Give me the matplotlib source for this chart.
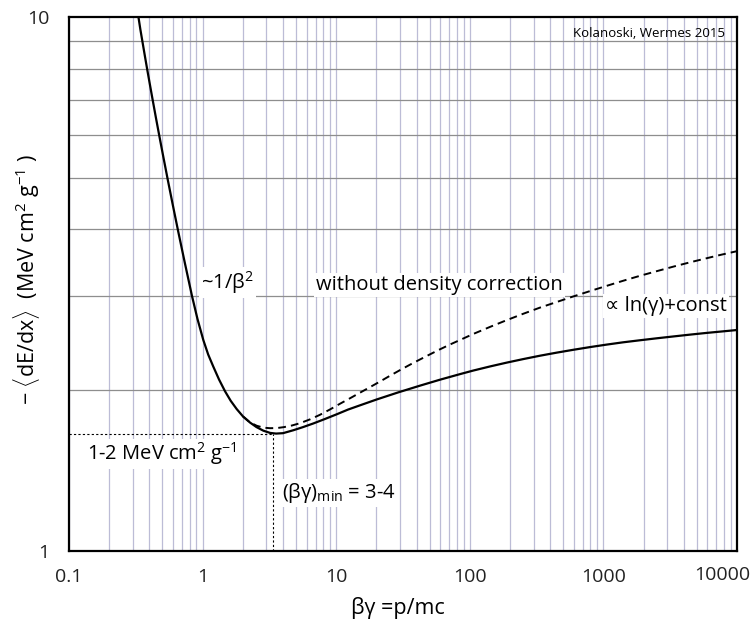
import numpy as np
import matplotlib
matplotlib.use("Agg")
import matplotlib.pyplot as plt
from matplotlib.ticker import FixedLocator, LogLocator, NullFormatter
from matplotlib.transforms import ScaledTranslation

plt.rcParams['font.family'] = ['Open Sans', 'DejaVu Sans']
plt.rcParams['mathtext.fontset'] = 'custom'
plt.rcParams['mathtext.rm'] = 'Open Sans'
plt.rcParams['mathtext.it'] = 'Open Sans:italic'
plt.rcParams['mathtext.bf'] = 'Open Sans:bold'

# energy loss with density correction
bg_solid = [0.331, 0.3417, 0.3546, 0.3698, 0.386, 0.4038, 0.423, 0.4477, 0.4764, 0.5101,
            0.5478, 0.5984, 0.6574, 0.7365, 0.8329, 0.9157, 1.012, 1.101, 1.203, 1.327,
            1.472, 1.623, 1.80, 2.007, 2.263, 2.532, 2.848, 3.196, 3.544, 3.999,
            4.774, 5.643, 6.74, 8.245, 10.09, 12.26, 15.07, 20.1, 29.2, 42.4,
            59.8, 84.5, 106, 141.6, 189, 250, 335, 447, 595, 794,
            1058, 1402, 1879, 2506, 3336, 4448, 5932, 7590, 10000]
dedx_solid = [10.0, 9.496, 8.992, 8.453, 7.946, 7.459, 6.992, 6.469, 5.954, 5.445,
              4.967, 4.446, 3.962, 3.462, 3.003, 2.719, 2.484, 2.333, 2.214, 2.095,
              1.991, 1.911, 1.844, 1.786, 1.740, 1.706, 1.680, 1.664, 1.659, 1.662,
              1.683, 1.706, 1.733, 1.767, 1.803, 1.840, 1.874, 1.922, 1.982, 2.040,
              2.093, 2.144, 2.177, 2.216, 2.253, 2.287, 2.321, 2.352, 2.381, 2.409,
              2.435, 2.459, 2.481, 2.502, 2.522, 2.542, 2.561, 2.576, 2.593]

# energy loss without density correction
bg_dash = [2.007, 2.263, 2.541, 2.848, 3.196, 3.605, 4.068, 4.668, 5.36, 6.368,
           7.56, 8.986, 10.68, 12.69, 15.07, 17.91, 21.3, 25.27, 30.0, 35.67,
           42.4, 50.37, 59.8, 71.1, 84.5, 106, 141.6, 189, 250, 335,
           447, 595, 794, 1058, 1402, 1879, 2506, 3336, 4448, 5932, 7590, 10000]
dedx_dash = [1.786, 1.741, 1.716, 1.702, 1.698, 1.699, 1.706, 1.718, 1.735, 1.764,
             1.799, 1.841, 1.887, 1.932, 1.979, 2.027, 2.077, 2.129, 2.181, 2.233,
             2.284, 2.335, 2.386, 2.436, 2.484, 2.549, 2.628, 2.706, 2.780, 2.856,
             2.926, 2.997, 3.067, 3.137, 3.206, 3.276, 3.342, 3.408, 3.472, 3.534, 3.587, 3.643]

# minimum ionisation
min_bg = 3.35
min_dedx = 1.656

x_ticks = [0.1, 1, 10, 100, 1000, 10000]
x_labels = ['0.1', '1', '10', '100', '1000', '10000']
y_ticks = [1, 10]
y_labels = ['1', '10']
y_grid = [2, 3, 4, 5, 6, 7, 8, 9]

fig = plt.figure(figsize=(7.54, 6.32), dpi=100)
ax = fig.add_axes([0.0915, 0.1282, 0.886, 0.8449])
ax.set_xscale('log')
ax.set_yscale('log')
ax.set_xlim(0.1, 10000)
ax.set_ylim(1, 10)

ax.xaxis.set_major_locator(FixedLocator(x_ticks))
ax.set_xticklabels(x_labels)
ax.xaxis.set_minor_locator(LogLocator(base=10, subs=np.arange(2, 10)))
ax.xaxis.set_minor_formatter(NullFormatter())
ax.yaxis.set_major_locator(FixedLocator(y_ticks))
ax.set_yticklabels(y_labels)
ax.yaxis.set_minor_locator(FixedLocator(y_grid))
ax.yaxis.set_minor_formatter(NullFormatter())
ax.tick_params(which='both', length=0, labelsize=14, colors='#222222')
ax.tick_params(axis='x', pad=12)
ax.tick_params(axis='y', pad=14)

# last x label shifted left so it stays inside the figure
lab = ax.get_xticklabels()[-1]
lab.set_transform(lab.get_transform() + ScaledTranslation(-0.15, 0.02, fig.dpi_scale_trans))

ax.grid(which='both', axis='x', color='#bcbcd6', lw=0.9)
ax.grid(which='minor', axis='y', color='#8e8e8e', lw=0.9)
ax.set_axisbelow(True)
for s in ax.spines.values():
    s.set_linewidth(1.6)

ax.plot(bg_dash, dedx_dash, color='black', lw=1.4, dashes=(4, 2.6))
ax.plot(bg_solid, dedx_solid, color='black', lw=1.6)
ax.hlines(min_dedx, 0.1, min_bg, color='black', lw=0.8, linestyles=(0, (2, 2)))
ax.vlines(min_bg, 1, min_dedx, color='black', lw=0.8, linestyles=(0, (2, 2)))

box = dict(facecolor='white', edgecolor='none', pad=1.5)
fs = 14.5
ax.text(0.973, 3.18, r'~1/β$^2$', fontsize=fs, ha='left', va='center', bbox=box)
ax.text(7.06, 3.15, 'without density correction', fontsize=fs, ha='left', va='center', bbox=box)
ax.text(1028, 2.88, '∝ ln(γ)+const', fontsize=fs, ha='left', va='center', bbox=box)
ax.text(0.1364, 1.519, r'1-2 MeV cm$^2$ g$^{-1}$', fontsize=fs, ha='left', va='center', bbox=box)
ax.text(3.93, 1.284, r'(βγ)$_{\rm min}$ = 3-4', fontsize=fs, ha='left', va='center', bbox=box)
ax.text(8130, 9.33, 'Kolanoski, Wermes 2015', fontsize=9.5, ha='right', va='center')

ax.set_ylabel(r'$-$ $\langle$dE/dx$\rangle$  (MeV cm$^2$ g$^{-1}$ )', fontsize=15.5)
ax.yaxis.set_label_coords(-0.04, 0.5075)
ax.set_xlabel('βγ =p/mc', fontsize=15.5)
ax.xaxis.set_label_coords(0.4925, -0.086)

fig.savefig('out.png', dpi=100)
